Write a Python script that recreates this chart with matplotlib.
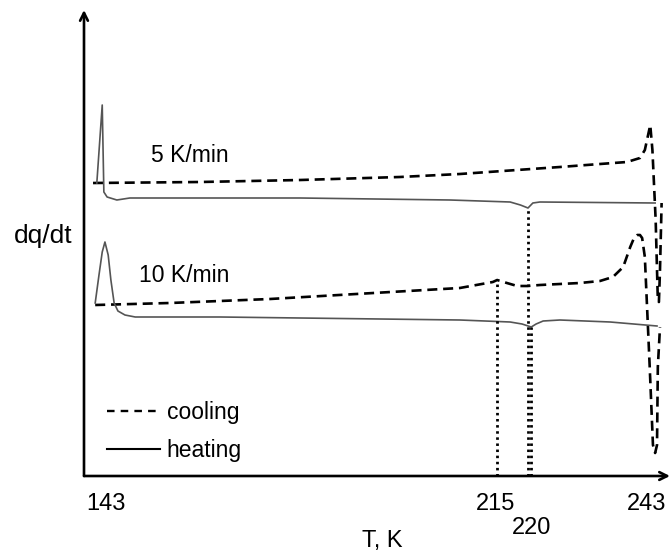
import matplotlib
matplotlib.use("Agg")
import matplotlib.pyplot as plt
from matplotlib.lines import Line2D

plt.rcParams['font.family'] = ['Liberation Sans', 'DejaVu Sans']

# DSC traces (T in K, dq/dt in arbitrary units)
cool5_T = [140.6, 160.4, 178.9, 197.3, 208.4, 226.9, 234.3, 239.3, 241.7, 242.6, 243.2, 243.6,
           244.0, 244.6, 245.0, 245.2, 245.4, 245.7]
cool5_y = [293, 294, 296, 299, 302, 309, 312, 314, 318, 326, 341, 351,
           326, 256, 176, 174, 206, 273]

heat5_T = [141.3, 142.3, 142.6, 143.2, 145.0, 147.4, 178.9, 206.6, 217.7, 219.6, 221.0, 221.9, 223.2, 244.5]
heat5_y = [293, 371, 284, 279, 276, 278, 278, 276, 274, 271, 268, 273, 274, 273]

cool10_T = [141.0, 154.8, 173.3, 208.4, 214.5, 215.3, 217.1, 219.0, 220.8, 223.2, 226.9, 230.6, 234.3,
            236.7, 238.6, 239.9, 240.6, 241.2, 241.7, 242.1, 242.6, 243.5, 244.1, 244.5, 244.85, 245.0, 245.4]
cool10_y = [171, 173, 177, 188, 194, 196, 193, 190, 190, 191, 192, 193, 195,
            199, 209, 229, 238, 241, 241, 238, 219, 109, 31, 23, 31, 109, 149]

heat10_T = [141.0, 141.7, 142.3, 142.8, 143.4, 143.9, 144.5, 145.2, 146.5, 148.4, 164.1, 208.4,
            217.7, 219.9, 221.6, 222.5, 223.8, 226.9, 236.2, 244.85]
heat10_y = [173, 201, 224, 234, 221, 196, 173, 165, 161, 159, 159, 156,
            154, 152, 149, 152, 155, 156, 154, 150]

# transitions marked with dotted drop lines
trans_T = [215.3, 221.0, 221.6]
trans_y = [196, 268, 149]

tick_T = [143, 215, 221.6, 243]
tick_labels = ["143", "215", "\n220", "243"]

rate_labels = ["5 K/min", "10 K/min"]
rate_pos = [(158.5, 320), (157.4, 201)]

fig = plt.figure(figsize=(6.71, 5.54), dpi=100)
ax = fig.add_axes([84 / 671, 78 / 554, 586 / 671, 466 / 554])
ax.set_xlim(138.93, 247.25)
ax.set_ylim(0, 466)

dash = dict(color="black", lw=1.9, dashes=(3.8, 2.2))
solid = dict(color="#555555", lw=1.2)

ax.plot(cool5_T, cool5_y, **dash)
ax.plot(cool10_T, cool10_y, **dash)
ax.plot(heat5_T, heat5_y, **solid)
ax.plot(heat10_T, heat10_y, **solid)
ax.vlines(trans_T, 0, trans_y, color="black", lw=2.0, linestyles=(0, (0.9, 1.3)))

for txt, (tx, ty) in zip(rate_labels, rate_pos):
    ax.text(tx, ty, txt, fontsize=16.5, ha="center", va="center")

for s in ax.spines.values():
    s.set_visible(False)
ax.annotate("", xy=(1.0, 0), xytext=(0, 0), xycoords="axes fraction",
            arrowprops=dict(arrowstyle="->", lw=1.9, color="black", mutation_scale=14,
                            shrinkA=0, shrinkB=0))
ax.annotate("", xy=(0, 1.0), xytext=(0, 0), xycoords="axes fraction",
            arrowprops=dict(arrowstyle="->", lw=1.9, color="black", mutation_scale=14,
                            shrinkA=0, shrinkB=0))

ax.set_xticks(tick_T)
ax.set_xticklabels(tick_labels, fontsize=17, va="top", linespacing=1.15)
ax.tick_params(axis="x", length=0, pad=12)
ax.set_yticks([])

ax.set_xlabel("T, K", fontsize=17)
ax.xaxis.set_label_coords((382 - 84) / 586, (476 - 541) / 466)
ax.xaxis.label.set_va("center")
ax.set_ylabel("dq/dt", fontsize=19, rotation=0, ha="center", va="center")
ax.yaxis.set_label_coords((43 - 84) / 586, (476 - 236) / 466)

handles = [Line2D([], [], color="black", lw=1.7, dashes=(3.2, 2.6)),
           Line2D([], [], color="black", lw=1.5)]
ax.legend(handles, ["cooling", "heating"], loc="upper left", bbox_to_anchor=((107 - 84) / 586, (476 - 401) / 466),
          frameon=False, fontsize=16.5, handlelength=2.3, handletextpad=0.3, labelspacing=0.66,
          borderpad=0, borderaxespad=0)

fig.savefig("out.png", dpi=100)
